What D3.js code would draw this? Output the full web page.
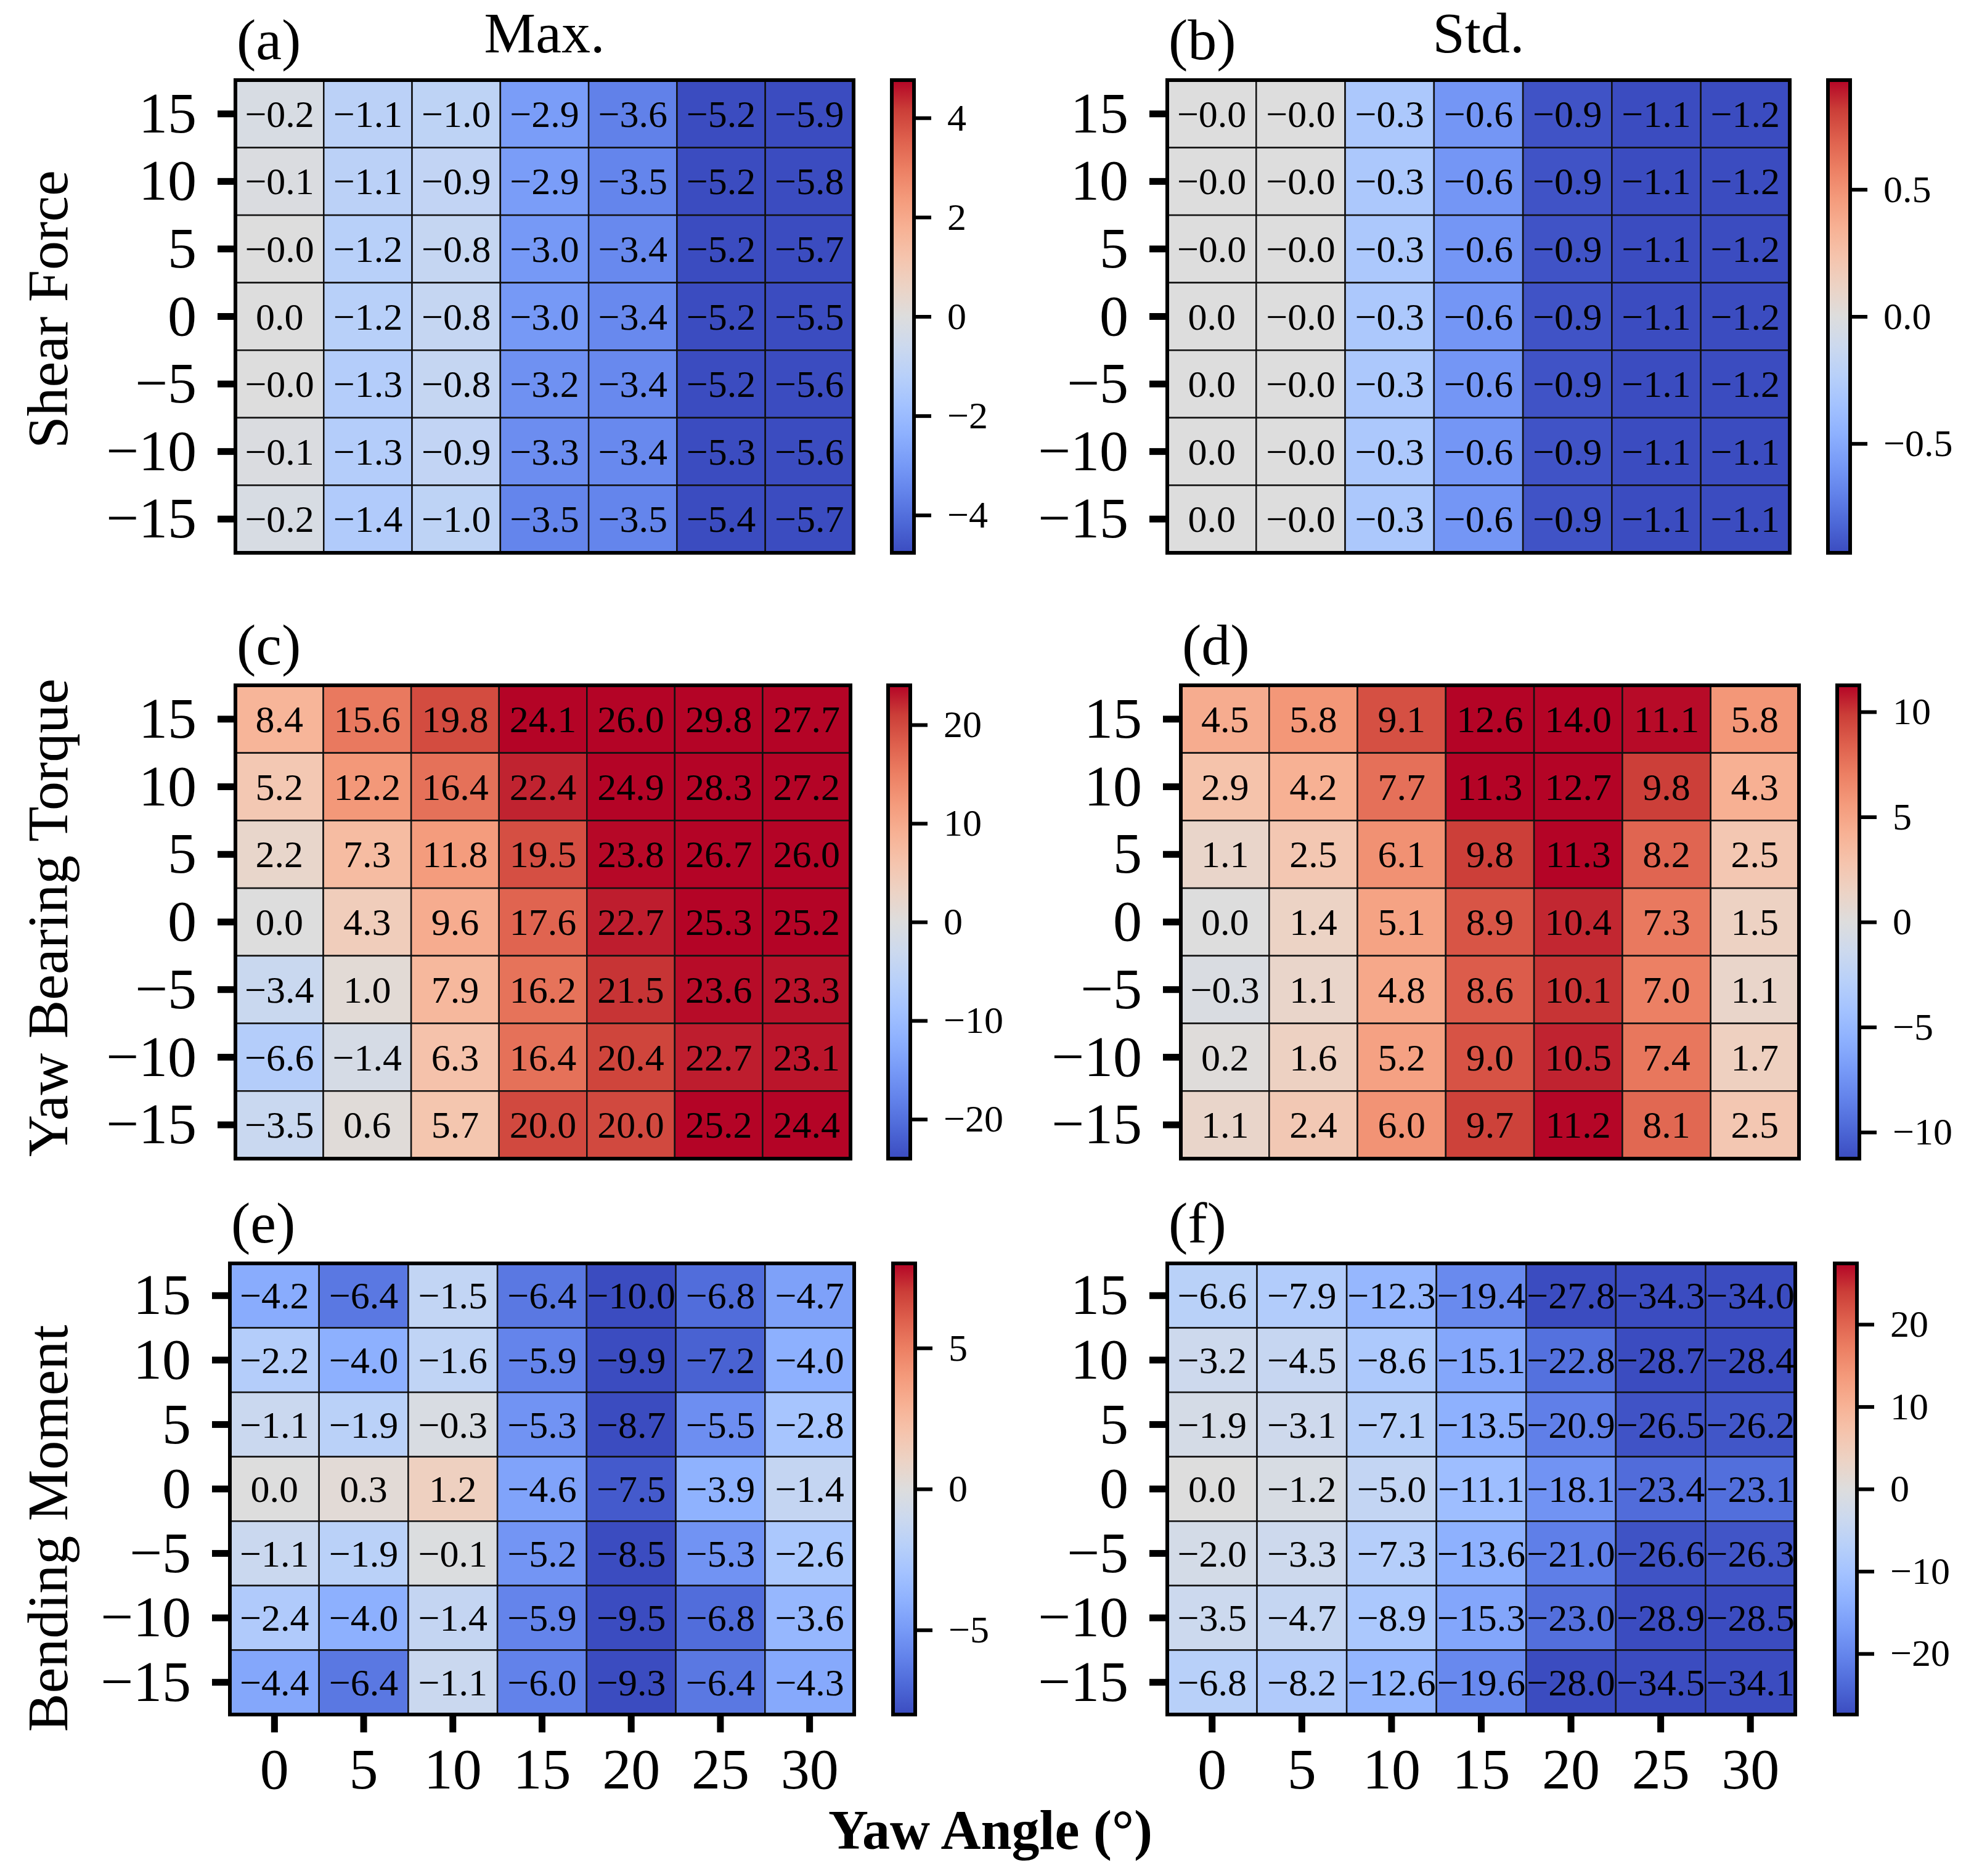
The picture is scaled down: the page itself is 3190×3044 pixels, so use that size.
<!DOCTYPE html>
<html>
<head>
<meta charset="utf-8">
<script src="https://cdn.jsdelivr.net/npm/d3@7"></script>
<style>
body { margin: 0; background: #fff; }
text { font-family: "Liberation Serif", "Times New Roman", serif; }
</style>
</head>
<body>
<div id="chart"></div>
<script>
// yaw angle columns and yaw-misalignment rows
var yawAngles = ["0", "5", "10", "15", "20", "25", "30"];
var rowLabels = ["15", "10", "5", "0", "\u22125", "\u221210", "\u221215"];

// -0.0 means a small negative value shown as "−0.0"
var shearMax = [
	[-0.2, -1.1, -1.0, -2.9, -3.6, -5.2, -5.9],
	[-0.1, -1.1, -0.9, -2.9, -3.5, -5.2, -5.8],
	[-0.0, -1.2, -0.8, -3.0, -3.4, -5.2, -5.7],
	[ 0.0, -1.2, -0.8, -3.0, -3.4, -5.2, -5.5],
	[-0.0, -1.3, -0.8, -3.2, -3.4, -5.2, -5.6],
	[-0.1, -1.3, -0.9, -3.3, -3.4, -5.3, -5.6],
	[-0.2, -1.4, -1.0, -3.5, -3.5, -5.4, -5.7]
];
var shearStd = [
	[-0.0, -0.0, -0.3, -0.6, -0.9, -1.1, -1.2],
	[-0.0, -0.0, -0.3, -0.6, -0.9, -1.1, -1.2],
	[-0.0, -0.0, -0.3, -0.6, -0.9, -1.1, -1.2],
	[ 0.0, -0.0, -0.3, -0.6, -0.9, -1.1, -1.2],
	[ 0.0, -0.0, -0.3, -0.6, -0.9, -1.1, -1.2],
	[ 0.0, -0.0, -0.3, -0.6, -0.9, -1.1, -1.1],
	[ 0.0, -0.0, -0.3, -0.6, -0.9, -1.1, -1.1]
];
var torqueMax = [
	[ 8.4, 15.6, 19.8, 24.1, 26.0, 29.8, 27.7],
	[ 5.2, 12.2, 16.4, 22.4, 24.9, 28.3, 27.2],
	[ 2.2,  7.3, 11.8, 19.5, 23.8, 26.7, 26.0],
	[ 0.0,  4.3,  9.6, 17.6, 22.7, 25.3, 25.2],
	[-3.4,  1.0,  7.9, 16.2, 21.5, 23.6, 23.3],
	[-6.6, -1.4,  6.3, 16.4, 20.4, 22.7, 23.1],
	[-3.5,  0.6,  5.7, 20.0, 20.0, 25.2, 24.4]
];
var torqueStd = [
	[ 4.5, 5.8, 9.1, 12.6, 14.0, 11.1, 5.8],
	[ 2.9, 4.2, 7.7, 11.3, 12.7,  9.8, 4.3],
	[ 1.1, 2.5, 6.1,  9.8, 11.3,  8.2, 2.5],
	[ 0.0, 1.4, 5.1,  8.9, 10.4,  7.3, 1.5],
	[-0.3, 1.1, 4.8,  8.6, 10.1,  7.0, 1.1],
	[ 0.2, 1.6, 5.2,  9.0, 10.5,  7.4, 1.7],
	[ 1.1, 2.4, 6.0,  9.7, 11.2,  8.1, 2.5]
];
var bendingMax = [
	[-4.2, -6.4, -1.5, -6.4, -10.0, -6.8, -4.7],
	[-2.2, -4.0, -1.6, -5.9,  -9.9, -7.2, -4.0],
	[-1.1, -1.9, -0.3, -5.3,  -8.7, -5.5, -2.8],
	[ 0.0,  0.3,  1.2, -4.6,  -7.5, -3.9, -1.4],
	[-1.1, -1.9, -0.1, -5.2,  -8.5, -5.3, -2.6],
	[-2.4, -4.0, -1.4, -5.9,  -9.5, -6.8, -3.6],
	[-4.4, -6.4, -1.1, -6.0,  -9.3, -6.4, -4.3]
];
var bendingStd = [
	[-6.6, -7.9, -12.3, -19.4, -27.8, -34.3, -34.0],
	[-3.2, -4.5,  -8.6, -15.1, -22.8, -28.7, -28.4],
	[-1.9, -3.1,  -7.1, -13.5, -20.9, -26.5, -26.2],
	[ 0.0, -1.2,  -5.0, -11.1, -18.1, -23.4, -23.1],
	[-2.0, -3.3,  -7.3, -13.6, -21.0, -26.6, -26.3],
	[-3.5, -4.7,  -8.9, -15.3, -23.0, -28.9, -28.5],
	[-6.8, -8.2, -12.6, -19.6, -28.0, -34.5, -34.1]
];

var panelLetters = ["(a)", "(b)", "(c)", "(d)", "(e)", "(f)"];
var columnTitles = ["Max.", "Std."];
var rowTitles = ["Shear Force", "Yaw Bearing Torque", "Bending Moment"];
var xTitle = "Yaw Angle (\u00b0)";

// symmetric colour limits of each panel
var colorLimits = [4.76, 0.93, 24.0, 11.26, 8.0, 27.4];
var colorbarTicks = [
	[-4, -2, 0, 2, 4],
	[-0.5, 0, 0.5],
	[-20, -10, 0, 10, 20],
	[-10, -5, 0, 5, 10],
	[-5, 0, 5],
	[-20, -10, 0, 10, 20]
];

// matplotlib coolwarm, sampled
var coolwarm = ["#3b4cc0", "#4d68d7", "#6282ea", "#779af7", "#8db0fe", "#a3c2ff",
	"#b8d0f9", "#ccd9ee", "#dddddd", "#ecd3c5", "#f5c4ad", "#f7b194",
	"#f49a7b", "#ec7f63", "#de604d", "#cb3e38", "#b40426"];

function fmtCell(v){
	var neg = v < 0 || 1 / v < 0;
	return (neg ? "\u2212" : "") + Math.abs(v).toFixed(1);
}

function init(){

	var w = 3190;
	var h = 3044;

	var datasets = [shearMax, shearStd, torqueMax, torqueStd, bendingMax, bendingStd];

	// pixel boxes of each heatmap and the left edge of its colour bar
	var layout = [
		{x0: 382,  x1: 1385, y0: 130,  y1: 897,  cb: 1447},
		{x0: 1894, x1: 2904, y0: 130,  y1: 897,  cb: 2966},
		{x0: 382,  x1: 1380, y0: 1112, y1: 1880, cb: 1441},
		{x0: 1916, x1: 2919, y0: 1112, y1: 1880, cb: 2981},
		{x0: 373,  x1: 1386, y0: 2050, y1: 2782, cb: 1449},
		{x0: 1894, x1: 2913, y0: 2050, y1: 2782, cb: 2977}
	];
	var cbWidth = 36;
	var bigFont = 94;
	var smallFont = 62;

	var svg = d3.select("#chart")
				.append("svg")
				.attr("width", w)
				.attr("height", h);

	var defs = svg.append("defs");

	datasets.forEach(function(data, p){
		var L = layout[p];
		var vmax = colorLimits[p];

		var xScale = d3.scaleBand()
						.domain(yawAngles)
						.range([L.x0, L.x1]);
		var yScale = d3.scaleBand()
						.domain(rowLabels)
						.range([L.y0, L.y1]);

		var color = d3.scaleLinear()
						.domain(coolwarm.map(function(c, i){ return -vmax + 2 * vmax * i / (coolwarm.length - 1); }))
						.range(coolwarm)
						.clamp(true);

		var cells = [];
		data.forEach(function(row, r){
			row.forEach(function(v, c){
				cells.push({r: r, c: c, v: v});
			});
		});

		var g = svg.append("g");

		g.selectAll("rect.cell")
			.data(cells)
			.enter()
			.append("rect")
			.attr("class", "cell")
			.attr("x", function(d){ return xScale(yawAngles[d.c]); })
			.attr("y", function(d){ return yScale(rowLabels[d.r]); })
			.attr("width", xScale.bandwidth())
			.attr("height", yScale.bandwidth())
			.attr("fill", function(d){ return color(d.v); })
			.attr("stroke", "#111")
			.attr("stroke-width", 2.5);

		g.selectAll("text.annot")
			.data(cells)
			.enter()
			.append("text")
			.attr("class", "annot")
			.text(function(d){ return fmtCell(d.v); })
			.attr("x", function(d){ return xScale(yawAngles[d.c]) + xScale.bandwidth() / 2; })
			.attr("y", function(d){ return yScale(rowLabels[d.r]) + yScale.bandwidth() / 2; })
			.attr("dy", "0.34em")
			.attr("text-anchor", "middle")
			.attr("font-size", smallFont)
			.attr("fill", "#000");

		// heavy frame
		g.append("rect")
			.attr("x", L.x0)
			.attr("y", L.y0)
			.attr("width", L.x1 - L.x0)
			.attr("height", L.y1 - L.y0)
			.attr("fill", "none")
			.attr("stroke", "#000")
			.attr("stroke-width", 6);

		// y axis
		var yAxis = g.append("g")
			.attr("transform", "translate(" + L.x0 + ",0)")
			.call(d3.axisLeft(yScale).tickSize(29).tickPadding(34));
		yAxis.select(".domain").remove();
		yAxis.selectAll("line").attr("stroke-width", 11);
		yAxis.selectAll("text").attr("font-size", bigFont).attr("font-family", null);

		// x axis only on the bottom row
		if (p >= 4){
			var xAxis = g.append("g")
				.attr("transform", "translate(0," + L.y1 + ")")
				.call(d3.axisBottom(xScale).tickSize(29).tickPadding(24));
			xAxis.select(".domain").remove();
			xAxis.selectAll("line").attr("stroke-width", 11);
			xAxis.selectAll("text").attr("font-size", bigFont).attr("font-family", null);
		}

		// colour bar
		var grad = defs.append("linearGradient")
			.attr("id", "cw" + p)
			.attr("x1", 0).attr("y1", 1)
			.attr("x2", 0).attr("y2", 0);
		grad.selectAll("stop")
			.data(coolwarm)
			.enter()
			.append("stop")
			.attr("offset", function(d, i){ return i / (coolwarm.length - 1); })
			.attr("stop-color", function(d){ return d; });

		g.append("rect")
			.attr("x", L.cb)
			.attr("y", L.y0)
			.attr("width", cbWidth)
			.attr("height", L.y1 - L.y0)
			.attr("fill", "url(#cw" + p + ")")
			.attr("stroke", "#000")
			.attr("stroke-width", 6);

		var cScale = d3.scaleLinear()
						.domain([-vmax, vmax])
						.range([L.y1, L.y0]);
		var cAxis = g.append("g")
			.attr("transform", "translate(" + (L.cb + cbWidth + 3) + ",0)")
			.call(d3.axisRight(cScale)
				.tickValues(colorbarTicks[p])
				.tickFormat(d3.format(p === 1 ? ".1f" : "d"))
				.tickSize(25)
				.tickPadding(26));
		cAxis.select(".domain").remove();
		cAxis.selectAll("line").attr("stroke-width", 6);
		cAxis.selectAll("text").attr("font-size", smallFont).attr("font-family", null);

		// panel letter
		g.append("text")
			.text(panelLetters[p])
			.attr("x", L.x0 + 2)
			.attr("y", L.y0 - 34)
			.attr("font-size", bigFont);

		// column title
		if (p < 2){
			g.append("text")
				.text(columnTitles[p])
				.attr("x", (L.x0 + L.x1) / 2)
				.attr("y", 85)
				.attr("text-anchor", "middle")
				.attr("font-size", bigFont);
		}
	});

	// row titles
	var rowCentres = [502, 1489, 2480];
	svg.selectAll("text.rowtitle")
		.data(rowTitles)
		.enter()
		.append("text")
		.attr("class", "rowtitle")
		.text(function(d){ return d; })
		.attr("transform", function(d, i){ return "translate(109," + rowCentres[i] + ") rotate(-90)"; })
		.attr("text-anchor", "middle")
		.attr("font-size", 94);

	svg.append("text")
		.text(xTitle)
		.attr("x", 1607)
		.attr("y", 3000)
		.attr("text-anchor", "middle")
		.attr("font-weight", "bold")
		.attr("font-size", 90);
}

window.onload = init;
</script>
</body>
</html>
